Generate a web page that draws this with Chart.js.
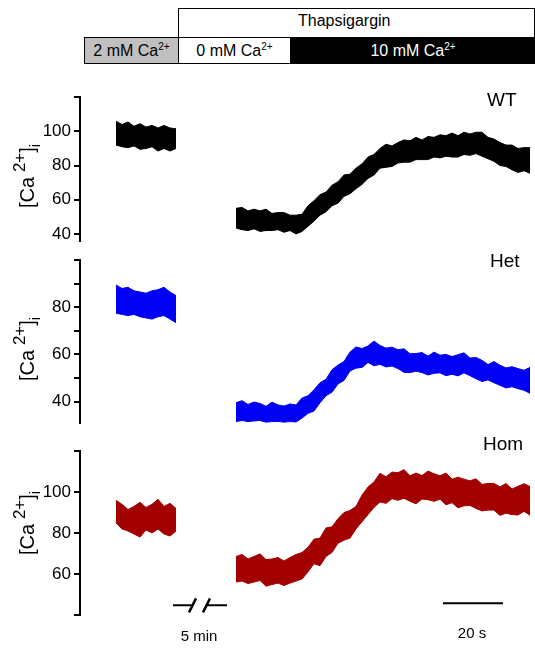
<!DOCTYPE html>
<html lang="en">
<head>
<meta charset="UTF-8">
<title>Thapsigargin Ca2+ traces</title>
<script src="https://cdn.jsdelivr.net/npm/chart.js"></script>
<style>
  body { margin: 0; background: #fff; font-family: "Liberation Sans", Arial, sans-serif; color: #000; }
  #page { position: relative; width: 535px; height: 648px; overflow: hidden; }
  canvas { position: absolute; left: 0; }
  .box { position: absolute; box-sizing: border-box; height: 27px; top: 37px; font-size: 16px; line-height: 25px; text-align: center; border: 1px solid #000; }
  .box sup, .thaps sup { font-size: 10px; line-height: 0; vertical-align: 6px; }
  .lbl { position: absolute; font-size: 19px; line-height: 19px; white-space: nowrap; }
  .ylab { position: absolute; font-size: 20px; line-height: 20px; white-space: nowrap; transform: translate(-50%, -50%) rotate(-90deg); }
  .ylab .sp { font-size: 17px; position: relative; top: -9px; }
  .ylab .sb { font-size: 14px; position: relative; top: 6px; }
  .small { position: absolute; font-size: 15px; line-height: 15px; white-space: nowrap; transform: translateX(-50%); }
</style>
</head>
<body>
<div id="page">
  <div style="position:absolute;left:178px;top:8px;width:357px;height:30px;box-sizing:border-box;border:1px solid #000;border-bottom:none;"></div>
  <div class="lbl" style="left:298px;top:13px;font-size:16px;line-height:16px;">Thapsigargin</div>
  <div class="box" style="left:84px;width:95px;background:#c0c0c0;">2 mM Ca<sup>2+</sup></div>
  <div class="box" style="left:178px;width:113px;background:#fff;">0 mM Ca<sup>2+</sup></div>
  <div class="box" style="left:290px;width:246px;background:#000;color:#fff;">10 mM Ca<sup>2+</sup></div>

  <canvas id="wt" width="535" height="170" style="top:84px"></canvas>
  <canvas id="het" width="535" height="189" style="top:247px"></canvas>
  <canvas id="hom" width="535" height="190" style="top:438px"></canvas>

  <div class="ylab" style="left:28px;top:176px;">[Ca<span class="sp"> 2+</span>]<span class="sb">i</span></div>
  <div class="ylab" style="left:28px;top:349px;">[Ca<span class="sp"> 2+</span>]<span class="sb">i</span></div>
  <div class="ylab" style="left:28px;top:523px;">[Ca<span class="sp"> 2+</span>]<span class="sb">i</span></div>

  <div class="lbl" style="left:487px;top:90px;">WT</div>
  <div class="lbl" style="left:490px;top:251px;">Het</div>
  <div class="lbl" style="left:483px;top:434px;">Hom</div>

  <div class="small" style="left:199px;top:628px;">5 min</div>
  <div class="small" style="left:472px;top:625px;">20 s</div>
</div>

<script>
  // time (s) of each sample; segment A = before the 5 min break, B = after
  const segATimes = [0, 2, 4, 6, 8, 10, 12, 14, 16, 18, 20];
  const segBTimes = [40, 42, 44, 46, 48, 50, 52, 54, 56, 58, 60, 62, 64, 66, 68, 70, 72, 74, 76, 78,
    80, 82, 84, 86, 88, 90, 92, 94, 96, 98, 100, 102, 104, 106, 108, 110, 112, 114, 116, 118,
    120, 122, 124, 126, 128, 130, 132, 134, 136, 138];

  // upper / lower edge of each noisy trace, [Ca2+]i
  const wtHighA = [106, 104, 105.5, 103, 104.5, 102.5, 103.5, 102, 103.5, 102, 101.5];
  const wtLowA  = [92, 91, 90.5, 91.5, 89.5, 90, 91, 88.5, 90, 88.5, 90];
  const wtHighB = [55, 55.5, 53.5, 54.5, 53.5, 54.5, 52, 52.5, 52.5, 51, 51, 51.5, 56.5, 59.5, 63, 64.5, 68.5, 70.5, 74.5, 75,
    78.5, 81, 85, 86.5, 90, 92.5, 91.5, 93.5, 95, 94.5, 96.5, 95, 97, 96.5, 98, 97.5, 99, 97.5, 99.5, 98.5,
    99.5, 99.5, 96.5, 95.5, 93.5, 92, 92, 90, 90.5, 90.5];
  const wtLowB  = [43.5, 42.5, 42, 43, 41.5, 42, 42, 42.5, 41, 42, 40, 41.5, 44.5, 47.5, 51, 53, 56.5, 58, 62, 63.5,
    66.5, 69, 72.5, 74.5, 78.5, 79, 79.5, 81.5, 82, 82, 83.5, 83.5, 83.5, 85, 84.5, 85.5, 85, 85, 86.5, 86,
    87, 85.5, 84, 82.5, 80, 79.5, 77.5, 76, 77, 75.5];

  const hetHighA = [89.5, 88, 88.5, 87, 86.5, 86, 87, 87.5, 88.5, 86.5, 85];
  const hetLowA  = [77.5, 77, 76.5, 77, 76, 75.5, 75, 76, 76.5, 75, 73.5];
  const hetHighB = [39.5, 40.4, 38.8, 39.8, 39.2, 38, 39.8, 38.6, 38.1, 39, 38.6, 41.5, 42.5, 45, 48, 49.5, 53.5, 55.5, 57, 61,
    63.2, 62.5, 63.6, 65.7, 63.8, 62.7, 63.1, 62, 62.4, 60.3, 60.4, 60.8, 59.3, 61, 59.7, 60, 59.1, 59.9, 60.7, 58.5,
    58.7, 57.5, 55.7, 57, 55.4, 54.3, 54.8, 54, 53.3, 54.5];
  const hetLowB  = [31.5, 32, 31.5, 31.8, 32, 31.2, 31.5, 31.6, 31.2, 31.5, 31.3, 33, 35, 36, 39.5, 42.5, 44, 47.5, 49, 53,
    54.2, 54.5, 56.6, 55.2, 55.8, 54.7, 55.1, 54, 52.4, 52.3, 52.9, 52.3, 51.3, 52, 52.2, 51, 51.6, 50.9, 52.2, 51,
    49.7, 48.5, 49.2, 48, 46.9, 45.8, 46.3, 45.5, 44.8, 43.5];

  const homHighA = [96, 94, 91.5, 93, 95, 92.5, 94, 96.5, 93, 94.5, 92];
  const homLowA  = [85, 82, 81, 79.5, 78, 81.5, 80, 82, 79.5, 78.5, 81];
  const homHighB = [68.5, 69.5, 67.3, 68.5, 69.8, 67, 67.3, 68, 66.3, 68, 69.5, 70.5, 73, 77, 77.5, 82.5, 83, 87, 90, 91,
    93, 98.5, 102.5, 105, 109.2, 107.5, 109.8, 109.5, 111, 108, 109.3, 108.1, 110.3, 109, 108, 109.3, 106.3, 107.3, 106.3, 105.5,
    106.5, 103.8, 104.2, 104.2, 102.6, 104.2, 101.5, 102.8, 104.1, 102.7];
  const homLowB  = [56, 56.5, 55.3, 56, 56.8, 54, 54.8, 55.5, 54.3, 55.5, 56.5, 57.5, 61, 65, 64, 68.5, 70.5, 75, 76.5, 77.5,
    82, 85.5, 89, 92.5, 95.2, 94.5, 96.8, 96, 97, 95.5, 94.3, 96.6, 96.3, 95.5, 96.5, 93.8, 94.8, 92.3, 93.3, 93.5,
    92, 90.8, 91.2, 91.2, 88.6, 89.7, 89, 88.8, 90.6, 88.7];

  const fontFamily = "'Liberation Sans', Arial, sans-serif";

  // scale bars drawn under the Hom trace
  const timeBar = { start: 109, length: 20 };
  const breakMark = { from: 19, to: 37 };
  const barLevel = 45.6;

  function toPoints(va, vb) {
    const a = segATimes.map((t, i) => ({ x: t, y: va[i] }));
    const b = segBTimes.map((t, i) => ({ x: t, y: vb[i] }));
    return a.concat([{ x: 30, y: null }], b);
  }

  const scaleBars = {
    id: 'scaleBars',
    afterDraw(chart) {
      const { ctx, scales: { x, y } } = chart;
      const yb = y.getPixelForValue(barLevel);
      ctx.save();
      ctx.strokeStyle = '#000';
      ctx.lineWidth = 2;
      ctx.beginPath();
      ctx.moveTo(x.getPixelForValue(timeBar.start), yb);
      ctx.lineTo(x.getPixelForValue(timeBar.start + timeBar.length), yb);
      // break symbol  —/ /—
      const b0 = x.getPixelForValue(breakMark.from), b1 = x.getPixelForValue(breakMark.to);
      const mid = (b0 + b1) / 2, yk = yb + 2;
      ctx.moveTo(b0, yk); ctx.lineTo(mid - 7, yk);
      ctx.moveTo(mid + 7, yk); ctx.lineTo(b1, yk);
      ctx.stroke();
      ctx.lineWidth = 2.5;
      ctx.beginPath();
      ctx.moveTo(mid - 11, yk + 7); ctx.lineTo(mid - 4, yk - 7);
      ctx.moveTo(mid + 3, yk + 7); ctx.lineTo(mid + 10, yk - 7);
      ctx.stroke();
      ctx.restore();
    }
  };

  function makePanel(id, color, highA, lowA, highB, lowB, yMin, yMax, labeled, plugins) {
    new Chart(document.getElementById(id), {
      type: 'line',
      data: {
        datasets: [
          { data: toPoints(highA, highB), borderColor: color, borderWidth: 1, pointRadius: 0, fill: false },
          { data: toPoints(lowA, lowB), borderColor: color, backgroundColor: color, borderWidth: 1, pointRadius: 0, fill: '-1' }
        ]
      },
      options: {
        responsive: false,
        animation: false,
        devicePixelRatio: 1,
        spanGaps: false,
        layout: { padding: { left: 0, right: 2, top: 10, bottom: 10 } },
        plugins: { legend: { display: false }, tooltip: { enabled: false } },
        scales: {
          x: { type: 'linear', display: false, min: -12, max: 139 },
          y: {
            min: yMin, max: yMax,
            ticks: {
              stepSize: 10, includeBounds: false, color: '#000', padding: 3,
              font: { family: fontFamily, size: 17 },
              callback: v => labeled.includes(v) ? String(v) : ''
            },
            grid: { drawOnChartArea: false, color: '#000', lineWidth: 2, tickLength: 6 },
            border: { color: '#000', width: 2 },
            afterFit: s => { s.width = 80; }
          }
        }
      },
      plugins: plugins || []
    });
  }

  makePanel('wt', '#000000', wtHighA, wtLowA, wtHighB, wtLowB, 36, 120, [40, 60, 80, 100]);
  makePanel('het', '#0000f5', hetHighA, hetLowA, hetHighB, hetLowB, 31, 100, [40, 60, 80]);
  makePanel('hom', '#a30000', homHighA, homLowA, homHighB, homLowB, 40, 120, [60, 80, 100], [scaleBars]);
</script>
</body>
</html>
